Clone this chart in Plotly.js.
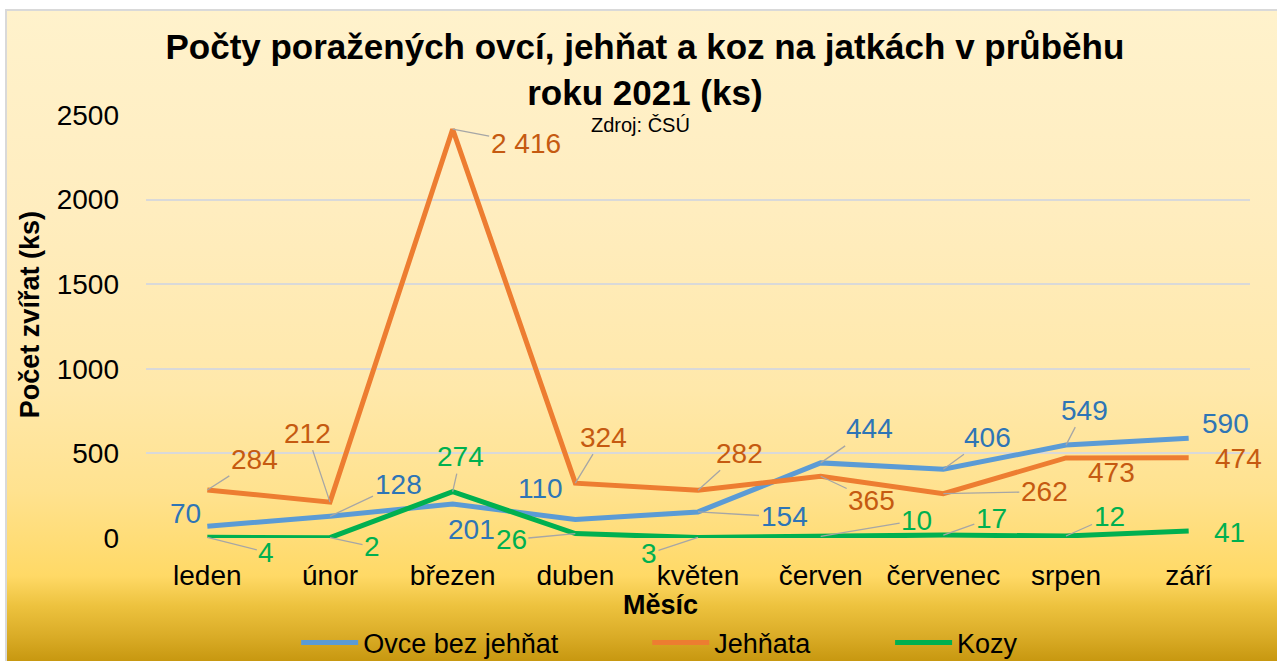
<!DOCTYPE html>
<html>
<head>
<meta charset="utf-8">
<script src="https://cdn.plot.ly/plotly-3.0.1.min.js"></script>
<style>
  html, body { margin: 0; padding: 0; background: #ffffff; width: 1277px; height: 661px; overflow: hidden; }
  #bg {
    position: absolute; left: 5px; top: 9px; width: 1272px; height: 652px;
    border-left: 2px solid #D9D9D9; border-top: 2px solid #D9D9D9; box-sizing: border-box;
    background: linear-gradient(to bottom, #FFF2CC 0px, #FFEDBF 200px, #FFE8AA 380px, #FFE28F 480px, #FFD966 565px, #EDC23E 595px, #DAAC27 625px, #C6960E 652px);
  }
  #chart { position: absolute; left: 0; top: 0; width: 1277px; height: 661px; }
</style>
</head>
<body>
<div id="bg"></div>
<div id="chart"></div>
<script>
// ---- data ----
const months = ['leden', 'únor', 'březen', 'duben', 'květen', 'červen', 'červenec', 'srpen', 'září'];
const ovce = [70, 128, 201, 110, 154, 444, 406, 549, 590];
const jehnata = [284, 212, 2416, 324, 282, 365, 262, 473, 474];
const kozy = [4, 2, 274, 26, 3, 10, 17, 12, 41];
const seriesNames = ['Ovce bez jehňat', 'Jehňata', 'Kozy'];
const yTicks = [0, 500, 1000, 1500, 2000, 2500];
const xTitle = 'Měsíc';
const yTitle = 'Počet zvířat (ks)';
const sourceText = 'Zdroj: ČSÚ';

// ---- styling / label placement (pixel offsets from point: dx, dy, leader line?) ----
const lineColors = ['#5B9BD5', '#ED7D31', '#00B050'];
const labelColors = ['#2E75B6', '#C55A11', '#00B050'];
const labelOffsets = [
  [[-22,-13,0],[68,-32,1],[19,26,0],[-35,-31,0],[86,5,1],[49,-34,1],[44,-32,1],[18,-35,1],[37,-15,0]],
  [[47,-30,1],[-23,-69,1],[73,14,1],[28,-46,1],[41,-37,1],[51,24,1],[101,-2,1],[45,15,0],[50,1,0]],
  [[59,15,1],[42,9,1],[8,-35,1],[-64,6,1],[-49,16,1],[96,-16,1],[48,-17,1],[43,-19,1],[41,1,0]]
];

const FONT = '"Liberation Sans", Arial, sans-serif';
const allSeries = [ovce, jehnata, kozy];

function fmt(v) {
  return String(v).replace(/\B(?=(\d{3})+(?!\d))/g, ' ');
}

const legendIds = ['legend', 'legend2', 'legend3'];
const traces = allSeries.map((vals, i) => ({
  type: 'scatter',
  mode: 'lines',
  x: months,
  y: vals,
  name: seriesNames[i],
  line: { color: lineColors[i], width: 5 },
  legend: legendIds[i],
  hoverinfo: 'x+y+name'
}));

const annotations = [];
allSeries.forEach((vals, s) => {
  vals.forEach((v, k) => {
    const off = labelOffsets[s][k];
    const a = {
      x: months[k], y: v, xref: 'x', yref: 'y',
      text: fmt(v),
      font: { family: FONT, size: 28, color: labelColors[s] }
    };
    if (off[2]) {
      Object.assign(a, {
        showarrow: true, arrowhead: 0, arrowwidth: 1.3, arrowcolor: '#A6A6A6',
        ax: off[0], ay: off[1], axref: 'pixel', ayref: 'pixel', standoff: 0, startstandoff: 0
      });
    } else {
      Object.assign(a, { showarrow: false, xshift: off[0], yshift: -off[1], xanchor: 'center', yanchor: 'middle' });
    }
    annotations.push(a);
  });
});

annotations.push({
  text: sourceText, xref: 'paper', yref: 'paper', x: 0.4475, y: 0.976,
  xanchor: 'center', yanchor: 'middle', showarrow: false,
  font: { family: FONT, size: 20, color: '#000000' }
});
// axis titles
annotations.push({
  text: '<b>' + xTitle + '</b>', xref: 'paper', yref: 'paper', x: 0.4656, y: -0.158,
  xanchor: 'center', yanchor: 'middle', showarrow: false,
  font: { family: FONT, size: 27, color: '#000000' }
});
annotations.push({
  text: '<b>' + yTitle + '</b>', xref: 'paper', yref: 'paper', x: -0.105, y: 0.527,
  xanchor: 'center', yanchor: 'middle', showarrow: false, textangle: -90,
  font: { family: FONT, size: 27, color: '#000000' }
});

const legendBase = {
  orientation: 'h', yanchor: 'middle', xanchor: 'left', yref: 'container', y: 1 - 643 / 661,
  bgcolor: 'rgba(0,0,0,0)', borderwidth: 0, itemwidth: 57,
  font: { family: FONT, size: 27, color: '#000000' }
};

const layout = {
  width: 1277, height: 661,
  margin: { l: 146, r: 27, t: 115, b: 123, pad: 0 },
  paper_bgcolor: 'rgba(0,0,0,0)',
  plot_bgcolor: 'rgba(0,0,0,0)',
  font: { family: FONT, color: '#000000' },
  title: {
    text: '<b>Počty poražených ovcí, jehňat a koz na jatkách v průběhu<br>roku 2021 (ks)</b>',
    font: { family: FONT, size: 35, color: '#000000' },
    x: 0.505, xref: 'container', xanchor: 'center',
    y: 0.9107, yref: 'container', yanchor: 'top'
  },
  xaxis: {
    type: 'category', categoryorder: 'array', categoryarray: months,
    range: [-0.5, 8.5], showgrid: false, zeroline: false, showline: false, ticks: '',
    automargin: false,
    tickfont: { family: FONT, size: 28, color: '#000000' },
    ticklabelstandoff: 18
  },
  yaxis: {
    range: [0, 2500], tickvals: yTicks, ticktext: yTicks.map(String),
    showgrid: true, gridcolor: '#D9D9D9', gridwidth: 1.5, zeroline: false, showline: false, ticks: '',
    automargin: false,
    tickfont: { family: FONT, size: 28, color: '#000000' },
    ticklabelstandoff: 26
  },
  showlegend: true,
  legend: Object.assign({}, legendBase, { x: 0.136 }),
  legend2: Object.assign({}, legendBase, { x: 0.454 }),
  legend3: Object.assign({}, legendBase, { x: 0.674 }),
  annotations: annotations
};

Plotly.newPlot('chart', traces, layout, { displayModeBar: false, staticPlot: false });
</script>
</body>
</html>
